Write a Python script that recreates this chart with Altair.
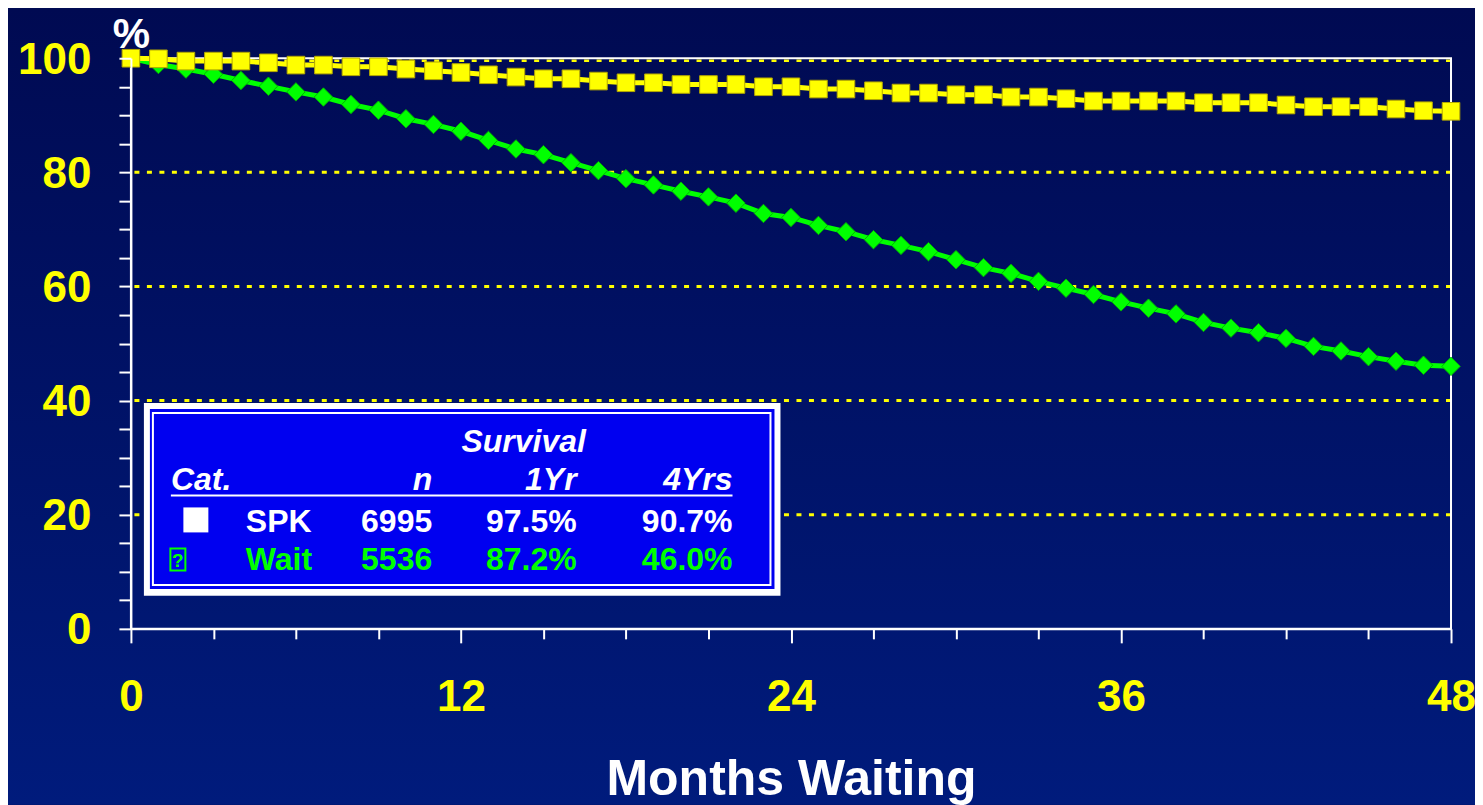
import altair as alt
import pandas as pd

# ---------------- data ----------------
months = list(range(0, 49))
spk = [100.0, 99.9, 99.5, 99.5, 99.5, 99.2, 98.8, 98.8, 98.5, 98.5,
       98.1, 97.8, 97.5, 97.1, 96.7, 96.4, 96.4, 96.0, 95.7, 95.7,
       95.4, 95.4, 95.4, 95.0, 95.0, 94.6, 94.6, 94.3, 93.9, 93.9,
       93.6, 93.6, 93.2, 93.2, 92.9, 92.5, 92.5, 92.5, 92.5, 92.2,
       92.2, 92.2, 91.8, 91.5, 91.5, 91.5, 91.1, 90.8, 90.7]
wait = [100.0, 98.9, 98.1, 97.2, 96.1, 95.1, 94.1, 93.2, 91.9, 90.9,
        89.4, 88.4, 87.2, 85.6, 84.1, 83.1, 81.7, 80.3, 78.9, 77.8,
        76.7, 75.7, 74.6, 72.8, 72.1, 70.7, 69.6, 68.2, 67.2, 66.1,
        64.7, 63.3, 62.3, 60.9, 59.7, 58.6, 57.3, 56.2, 55.2, 53.7,
        52.7, 51.9, 50.9, 49.5, 48.7, 47.7, 46.9, 46.2, 46.0]
grid_values = [20, 40, 60, 80]
top_grid_value = [100]
x_tick_values = list(range(0, 49, 3))
y_tick_values = list(range(0, 101, 5))

legend_title = "Survival"
legend_headers = ["Cat.", "n", "1Yr", "4Yrs"]
legend_cats = ["SPK", "Wait"]
legend_n = ["6995", "5536"]
legend_1yr = ["97.5%", "87.2%"]
legend_4yr = ["90.7%", "46.0%"]

x_title = "Months Waiting"
y_title = "%"

# ---------------- styles ----------------
FONT = "Liberation Sans"
YELLOW = "#ffff00"
GREEN = "#00ff00"
WHITE = "#ffffff"
BOX_BLUE = "#0000f0"
W, H = 1321, 571
PAD = {"left": 123, "top": 50, "right": 24, "bottom": 176}

df = pd.DataFrame({
    "month": months * 2,
    "pct": spk + wait,
    "series": ["SPK"] * len(spk) + ["Wait"] * len(wait),
})
grid_df = pd.DataFrame({"pct": grid_values})
top_grid_df = pd.DataFrame({"pct": top_grid_value})

x_axis = alt.Axis(
    values=x_tick_values,
    labelExpr="datum.value % 12 === 0 ? datum.label : ''",
    labelColor=YELLOW, labelFontSize=44, labelFontWeight="bold", labelFont=FONT,
    labelPadding=33, labelFlush=False, labelOverlap=False,
    domainColor=WHITE, domainWidth=2,
    tickColor=WHITE, tickWidth=2,
    tickSize={"condition": {"test": "datum.value % 12 === 0", "value": 14}, "value": 10},
    grid=False, zindex=1,
    title=x_title, titleColor=WHITE, titleFontSize=50, titleFontWeight="bold", titleFont=FONT,
    titleX=660.5, titleY=166, titleAlign="center", titleBaseline="alphabetic",
)
y_axis = alt.Axis(
    values=y_tick_values,
    labelExpr="datum.value % 20 === 0 ? datum.label : ''",
    labelColor=YELLOW, labelFontSize=44, labelFontWeight="bold", labelFont=FONT,
    labelPadding=28, labelOffset=2, labelFlush=False, labelOverlap=False,
    domainColor=WHITE, domainWidth=2,
    tickColor=WHITE, tickWidth=2, tickSize=12,
    grid=False, zindex=1,
    title=y_title, titleColor=WHITE, titleFontSize=42, titleFontWeight="bold", titleFont=FONT,
    titleAngle=0, titleX=0, titleY=-11, titleAlign="center", titleBaseline="alphabetic",
)

X = alt.X("month:Q", scale=alt.Scale(domain=[0, 48], nice=False, zero=False), axis=x_axis)
Y = alt.Y("pct:Q", scale=alt.Scale(domain=[0, 100], nice=False), axis=y_axis)

one = pd.DataFrame({"k": [0]})

# background gradient
bg = alt.Chart(one).mark_rect(
    color=alt.LinearGradient(
        gradient="linear",
        stops=[alt.GradientStop(color="#000a52", offset=0),
               alt.GradientStop(color="#001b7c", offset=1)],
        x1=0, x2=0, y1=0, y2=1,
    )
).encode(
    x=alt.value(-PAD["left"]), x2=alt.value(W + PAD["right"]),
    y=alt.value(-PAD["top"]), y2=alt.value(H + PAD["bottom"]),
)

grid = alt.Chart(grid_df).mark_rule(
    color=YELLOW, strokeWidth=3, strokeDash=[5, 7.5]
).encode(y=Y)
top_grid = alt.Chart(top_grid_df).mark_rule(
    color=YELLOW, strokeWidth=2.5, strokeDash=[5, 7.5], yOffset=2.5
).encode(y=Y)

border = alt.Chart(one).mark_rect(
    fillOpacity=0, stroke=WHITE, strokeWidth=2
).encode(x=alt.value(0), x2=alt.value(W), y=alt.value(0), y2=alt.value(H))

wait_line = alt.Chart(df).transform_filter("datum.series === 'Wait'").mark_line(
    color=GREEN, strokeWidth=5
).encode(x=X, y=Y)
wait_pts = alt.Chart(df).transform_filter("datum.series === 'Wait'").mark_point(
    shape="diamond", filled=True, size=340, fill=GREEN, stroke="#00b400",
    strokeWidth=1, opacity=1
).encode(x=X, y=Y)
spk_line = alt.Chart(df).transform_filter("datum.series === 'SPK'").mark_line(
    color=YELLOW, strokeWidth=5
).encode(x=X, y=Y)
spk_pts = alt.Chart(df).transform_filter("datum.series === 'SPK'").mark_point(
    shape="square", filled=True, size=310, fill=YELLOW, stroke="#b4a800",
    strokeWidth=1, opacity=1
).encode(x=X, y=Y)

# ---------------- legend table ----------------
def box(x1, x2, y1, y2, **kw):
    return alt.Chart(one).mark_rect(**kw).encode(
        x=alt.value(x1), x2=alt.value(x2), y=alt.value(y1), y2=alt.value(y2))


def txt(s, x, y, color, align, italic=False, size=32):
    kw = dict(font=FONT, fontSize=size, fontWeight="bold", color=color,
              align=align, baseline="alphabetic")
    if italic:
        kw["fontStyle"] = "italic"
    return alt.Chart(pd.DataFrame({"t": [s]})).mark_text(**kw).encode(
        text="t:N", x=alt.value(x), y=alt.value(y))


legend_layers = [
    box(13, 650, 345, 538, color=WHITE),
    box(19, 644, 351, 531, color=BOX_BLUE),
    box(22, 640, 355, 527, fillOpacity=0, stroke=WHITE, strokeWidth=2),
    alt.Chart(one).mark_rule(color=WHITE, strokeWidth=2).encode(
        x=alt.value(40), x2=alt.value(602), y=alt.value(437.5)),
    txt(legend_title, 393, 394, WHITE, "center", italic=True),
]
col_x = [40, 301.5, 446, 602]
for i, h in enumerate(legend_headers):
    legend_layers.append(txt(h, col_x[i], 432, WHITE, "left" if i == 0 else "right", italic=True))

row_y = [474, 512]
row_colors = [WHITE, GREEN]
# row markers
legend_layers.append(box(52.5, 77.5, 449.5, 474.5, color=WHITE))
legend_layers.append(box(39.5, 54.5, 490.5, 512.5, fillOpacity=0, stroke=GREEN, strokeWidth=2))
legend_layers.append(txt("?", 47, 509, GREEN, "center", size=19))
for r in range(2):
    legend_layers.append(txt(legend_cats[r], 115, row_y[r], row_colors[r], "left"))
    legend_layers.append(txt(legend_n[r], col_x[1], row_y[r], row_colors[r], "right"))
    legend_layers.append(txt(legend_1yr[r], col_x[2], row_y[r], row_colors[r], "right"))
    legend_layers.append(txt(legend_4yr[r], col_x[3], row_y[r], row_colors[r], "right"))

chart = alt.layer(
    bg, grid, top_grid, border, wait_line, wait_pts, spk_line, spk_pts, *legend_layers
).properties(
    width=W, height=H,
    autosize=alt.AutoSizeParams(type="none"),
    padding=PAD,
).configure(
    background="#00115e", font=FONT,
).configure_view(strokeWidth=0)

chart.save("out.html", embed_options={"renderer": "svg", "actions": False})
